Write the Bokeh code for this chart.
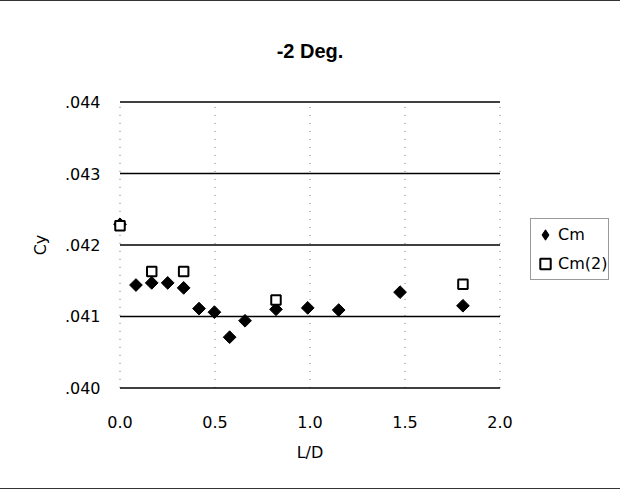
import math
from bokeh.plotting import figure
from bokeh.models import (FixedTicker, CustomJSTickFormatter, Legend, LegendItem, Title)
from bokeh.embed import file_html
from bokeh.resources import INLINE

# ---- data ----
ld_cm = [0.0, 0.084, 0.167, 0.251, 0.335, 0.416, 0.497, 0.577, 0.658, 0.821, 0.988, 1.151, 1.474, 1.805]
cy_cm = [0.04229, 0.04144, 0.04147, 0.04147, 0.04140, 0.04111, 0.04106, 0.04071, 0.04094, 0.04110,
         0.04112, 0.04109, 0.04134, 0.04115]
ld_cm2 = [0.0, 0.167, 0.335, 0.821, 1.805]
cy_cm2 = [0.04227, 0.04163, 0.04163, 0.04123, 0.04145]
x_ticks = [0.0, 0.5, 1.0, 1.5, 2.0]
y_ticks = [0.040, 0.041, 0.042, 0.043, 0.044]
title_text = "-2 Deg."
x_label = "L/D"
y_label = "Cy"
series_names = ["Cm", "Cm(2)"]

FONT = "DejaVu Sans"

p = figure(frame_width=399, frame_height=293,
           min_border_left=110, min_border_right=111, min_border_top=96, min_border_bottom=97,
           x_range=(-0.05, 2.05), y_range=(0.03995, 0.04405),
           output_backend="svg", toolbar_location=None, title=None)
p.outline_line_color = None
p.background_fill_color = "white"
p.border_fill_color = "white"
p.xgrid.visible = False
p.ygrid.visible = False

t = Title(text=title_text, align="center", text_font="Liberation Sans", text_font_size="20px",
          text_font_style="bold", text_color="black", standoff=73)
p.add_layout(t, "above")

# axes
p.xaxis.ticker = FixedTicker(ticks=x_ticks)
p.yaxis.ticker = FixedTicker(ticks=y_ticks)
p.xaxis.formatter = CustomJSTickFormatter(code="return tick.toFixed(1);")
p.yaxis.formatter = CustomJSTickFormatter(code="return tick.toFixed(3).replace(/^0/, '');")
for ax in (p.xaxis, p.yaxis):
    ax.axis_line_color = None
    ax.major_tick_line_color = None
    ax.major_tick_out = 0
    ax.major_tick_in = 0
    ax.minor_tick_line_color = None
    ax.minor_tick_out = 0
    ax.major_label_text_font = FONT
    ax.major_label_text_font_size = "16px"
    ax.major_label_text_color = "black"
    ax.axis_label_text_font = FONT
    ax.axis_label_text_font_size = "16px"
    ax.axis_label_text_font_style = "normal"
    ax.axis_label_text_color = "black"
p.xaxis.major_label_standoff = 24
p.yaxis.major_label_standoff = 10
p.xaxis.axis_label = x_label
p.yaxis.axis_label = y_label
p.xaxis.axis_label_standoff = 12
p.yaxis.axis_label_standoff = 12

# grid lines (drawn through the data scales, spanning the tick extents)
nx, ny = len(x_ticks), len(y_ticks)
p.segment(x0=x_ticks, y0=[y_ticks[0]] * nx, x1=x_ticks, y1=[y_ticks[-1]] * nx,
          line_color="#777777", line_width=1, line_dash="1 7")
p.segment(x0=[x_ticks[0]] * ny, y0=y_ticks, x1=[x_ticks[-1]] * ny, y1=y_ticks,
          line_color="black", line_width=1.5)

# legend swatch for the diamond series (legend glyphs are drawn unrotated);
# zero size in the plot, the legend sizes its swatch itself
r1_key = p.scatter(ld_cm, cy_cm, marker="diamond", size=0, fill_color="black",
                   line_color="black", line_width=1)
r1 = p.scatter(ld_cm, cy_cm, marker="square", angle=math.pi / 4, size=9, fill_color="black",
               line_color="black", line_width=1)
r2 = p.scatter(ld_cm2, cy_cm2, marker="square", size=9.5, fill_color="white", line_color="black",
               line_width=2)

legend = Legend(items=[LegendItem(label=series_names[0], renderers=[r1_key]),
                       LegendItem(label=series_names[1], renderers=[r2])],
                location=(21, 111), orientation="vertical")
legend.margin = 0
legend.padding = 1
legend.spacing = 0
legend.label_height = 29
legend.glyph_height = 29
legend.glyph_width = 26
legend.label_standoff = 0
legend.label_text_font = FONT
legend.label_text_font_size = "16px"
legend.label_text_color = "black"
legend.border_line_color = "#333333"
legend.border_line_width = 1
legend.background_fill_color = "white"
p.add_layout(legend, "right")

p.styles = {"border-top": "1px solid #333333", "border-bottom": "1px solid #333333"}

open("out.html", "w").write(file_html(p, INLINE))
